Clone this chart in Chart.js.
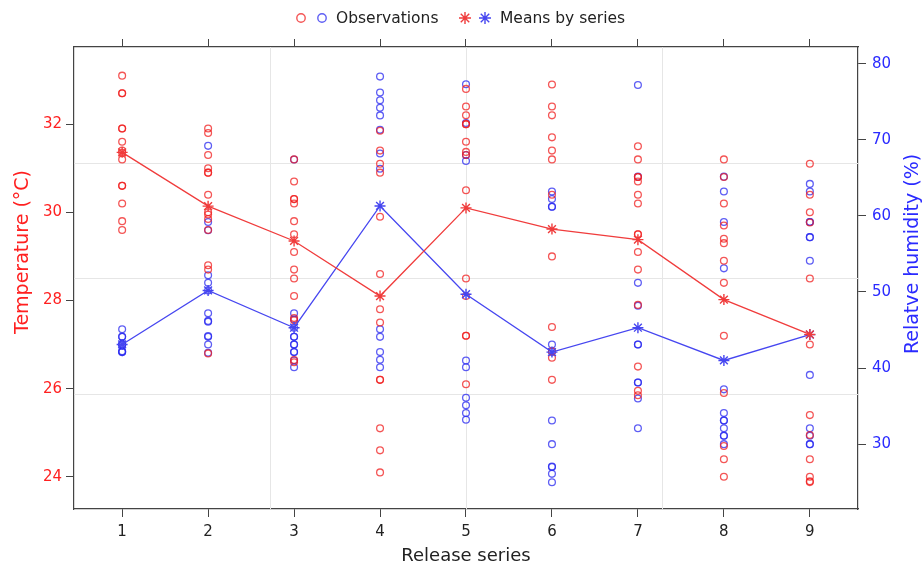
<!DOCTYPE html>
<html>
<head>
<meta charset="utf-8">
<script src="https://cdn.jsdelivr.net/npm/chart.js@4/dist/chart.umd.min.js"></script>
<style>
  html, body { margin: 0; padding: 0; background: #fff; }
  #wrap { width: 922px; height: 568px; }
</style>
</head>
<body>
<div id="wrap"><canvas id="chart" width="922" height="568"></canvas></div>
<script>
// release series (x categories)
const seriesTicks = [1, 2, 3, 4, 5, 6, 7, 8, 9];
const tempTicks = [24, 26, 28, 30, 32];
const humTicks = [30, 40, 50, 60, 70, 80];

// temperature observations (°C), one list per release series
const tempObs = [
    [33.1, 32.7, 32.7, 31.9, 31.9, 31.6, 31.4, 31.35, 31.2, 30.6, 30.6, 30.2, 29.8, 29.6],
    [31.9, 31.8, 31.3, 31.0, 30.9, 30.9, 30.4, 30.0, 29.95, 29.85, 29.6, 28.8, 28.7, 26.8],
    [31.2, 30.7, 30.3, 30.3, 30.2, 29.8, 29.5, 29.1, 28.7, 28.5, 28.1, 27.6, 27.55, 26.65, 26.6],
    [31.85, 31.4, 31.1, 30.9, 29.9, 28.6, 27.8, 27.5, 26.2, 26.2, 25.1, 24.6, 24.1],
    [32.8, 32.4, 32.2, 32.0, 32.0, 31.6, 31.37, 31.3, 30.5, 28.5, 28.1, 27.2, 27.2, 26.1],
    [32.9, 32.4, 32.2, 31.7, 31.4, 31.2, 30.4, 29.0, 27.4, 26.85, 26.7, 26.2],
    [31.5, 31.2, 30.8, 30.8, 30.7, 30.4, 30.2, 29.5, 29.5, 29.1, 28.7, 27.9, 26.5, 25.95, 25.85],
    [31.2, 30.8, 30.2, 29.7, 29.4, 29.3, 28.9, 28.4, 27.2, 25.9, 24.7, 24.4, 24.0],
    [31.1, 30.4, 30.0, 29.77, 28.5, 27.0, 25.4, 24.95, 24.4, 24.0, 23.9, 23.88]
];

// relative humidity observations (%), one list per release series
const humObs = [
    [45.1, 44.1, 44.1, 43.2, 43.1, 43.0, 42.2, 42.1, 42.1],
    [69.2, 59.2, 58.1, 52.2, 51.2, 50.2, 47.2, 46.2, 46.1, 44.2, 44.1, 43.1, 42.0],
    [67.4, 47.2, 46.4, 45.3, 44.1, 44.1, 43.1, 43.1, 42.1, 42.1, 41.0, 40.1],
    [78.3, 76.2, 75.2, 74.2, 73.2, 71.3, 68.2, 66.2, 45.1, 44.1, 42.1, 41.1, 40.1],
    [77.3, 72.2, 68.0, 67.2, 41.0, 40.1, 36.1, 35.1, 34.1, 33.2],
    [63.2, 62.2, 61.2, 61.2, 43.1, 42.1, 33.1, 30.0, 27.05, 27.0, 26.1, 25.0],
    [77.2, 65.15, 51.2, 48.2, 43.1, 43.1, 38.1, 38.1, 36.0, 32.1],
    [65.15, 63.2, 59.2, 53.1, 37.2, 34.1, 33.1, 33.1, 32.1, 31.1, 31.1, 30.0],
    [64.2, 63.2, 59.2, 59.2, 57.2, 57.2, 54.1, 39.1, 32.1, 31.1, 30.0, 30.0]
];

// means by series
const tempMeans = [31.36, 30.14, 29.35, 28.1, 30.1, 29.62, 29.38, 28.02, 27.23];
const humMeans = [43.1, 50.2, 45.3, 61.3, 49.7, 42.1, 45.3, 41.0, 44.4];

const RED = 'rgba(240, 30, 30, 0.75)';
const BLUE = 'rgba(40, 40, 240, 0.75)';
const RED_LINE = '#f03c3c';
const BLUE_LINE = '#4646f0';
const RED_TEXT = '#ff2020';
const BLUE_TEXT = '#2a2aff';
const AXIS = '#444';
const FONT = "'DejaVu Sans', Verdana, sans-serif";

function obsPoints(lists) {
    const pts = [];
    lists.forEach((vals, i) => vals.forEach(v => pts.push({ x: seriesTicks[i], y: v })));
    return pts;
}
function meanPoints(vals) {
    return vals.map((v, i) => ({ x: seriesTicks[i], y: v }));
}
function fixTicks(list) {
    return scale => { scale.ticks = list.map(v => ({ value: v })); };
}

// faint grid at quarter positions of the panel
const quarterGrid = {
    id: 'quarterGrid',
    beforeDatasetsDraw(chart) {
        const { ctx, chartArea: a } = chart;
        ctx.save();
        ctx.strokeStyle = '#e6e6e6';
        ctx.lineWidth = 1;
        ctx.beginPath();
        for (let k = 1; k < 4; k++) {
            const x = Math.round(a.left + (a.right - a.left) * k / 4) + 0.5;
            const y = Math.round(a.top + (a.bottom - a.top) * k / 4) + 0.5;
            ctx.moveTo(x, a.top); ctx.lineTo(x, a.bottom);
            ctx.moveTo(a.left, y); ctx.lineTo(a.right, y);
        }
        ctx.stroke();
        ctx.restore();
    }
};

// legend: two symbols per entry, as in the original
function drawStar(ctx, x, y, r) {
    const d = r * Math.SQRT1_2;
    ctx.beginPath();
    ctx.moveTo(x - r, y); ctx.lineTo(x + r, y);
    ctx.moveTo(x, y - r); ctx.lineTo(x, y + r);
    ctx.moveTo(x - d, y - d); ctx.lineTo(x + d, y + d);
    ctx.moveTo(x - d, y + d); ctx.lineTo(x + d, y - d);
    ctx.stroke();
}
const topLegend = {
    id: 'topLegend',
    afterDraw(chart) {
        const ctx = chart.ctx;
        const y = 18;
        ctx.save();
        ctx.lineWidth = 1.4;
        [[301, RED], [322, BLUE]].forEach(([x, c]) => {
            ctx.strokeStyle = c;
            ctx.beginPath();
            ctx.arc(x, y, 4.2, 0, Math.PI * 2);
            ctx.stroke();
        });
        [[465, RED_LINE], [485, BLUE_LINE]].forEach(([x, c]) => {
            ctx.strokeStyle = c;
            drawStar(ctx, x, y, 6);
        });
        ctx.fillStyle = '#222';
        ctx.font = '15.5px ' + FONT;
        ctx.textBaseline = 'middle';
        ctx.textAlign = 'left';
        ctx.fillText('Observations', 336, y + 1);
        ctx.fillText('Means by series', 500, y + 1);
        ctx.restore();
    }
};

// both y titles read bottom-to-top in the original
const yTitles = {
    id: 'yTitles',
    afterDraw(chart) {
        const ctx = chart.ctx;
        ctx.save();
        ctx.font = '19px ' + FONT;
        ctx.textAlign = 'center';
        ctx.textBaseline = 'middle';
        [[23, 252, 'Temperature (°C)', RED_TEXT], [913, 254, 'Relatve humidity (%)', BLUE_TEXT]].forEach(([x, y, t, c]) => {
            ctx.save();
            ctx.translate(x, y);
            ctx.rotate(-Math.PI / 2);
            ctx.fillStyle = c;
            ctx.fillText(t, 0, 0);
            ctx.restore();
        });
        ctx.restore();
    }
};

const ctx = document.getElementById('chart');
new Chart(ctx, {
    type: 'scatter',
    data: {
        datasets: [
            {
                label: 'Means temperature',
                data: meanPoints(tempMeans),
                yAxisID: 'y',
                showLine: true,
                borderColor: RED_LINE,
                borderWidth: 1.3,
                pointStyle: 'star',
                pointRadius: 5.5,
                pointBorderColor: RED_LINE,
                pointBorderWidth: 1.4,
                order: 1
            },
            {
                label: 'Means humidity',
                data: meanPoints(humMeans),
                yAxisID: 'y2',
                showLine: true,
                borderColor: BLUE_LINE,
                borderWidth: 1.3,
                pointStyle: 'star',
                pointRadius: 5.5,
                pointBorderColor: BLUE_LINE,
                pointBorderWidth: 1.4,
                order: 2
            },
            {
                label: 'Temperature',
                data: obsPoints(tempObs),
                yAxisID: 'y',
                pointRadius: 3.4,
                pointBorderWidth: 1.3,
                pointBorderColor: RED,
                pointBackgroundColor: 'transparent',
                order: 3
            },
            {
                label: 'Humidity',
                data: obsPoints(humObs),
                yAxisID: 'y2',
                pointRadius: 3.4,
                pointBorderWidth: 1.3,
                pointBorderColor: BLUE,
                pointBackgroundColor: 'transparent',
                order: 4
            }
        ]
    },
    options: {
        responsive: false,
        animation: false,
        layout: { padding: 0 },
        font: { family: FONT },
        plugins: {
            legend: { display: false },
            tooltip: { enabled: false }
        },
        scales: {
            x: {
                type: 'linear',
                position: 'bottom',
                min: 0.44,
                max: 9.56,
                afterBuildTicks: fixTicks(seriesTicks),
                afterFit: s => { s.height = 59; },
                grid: { drawOnChartArea: false, tickLength: 8, color: AXIS },
                border: { color: AXIS, width: 1.2 },
                ticks: { color: '#222', font: { family: FONT, size: 15 }, padding: 6 },
                title: {
                    display: true, text: 'Release series', color: '#222',
                    font: { family: FONT, size: 18 }, padding: { top: 0, bottom: 1 }
                }
            },
            xTop: {
                type: 'linear',
                position: 'top',
                min: 0.44,
                max: 9.56,
                afterBuildTicks: fixTicks(seriesTicks),
                afterFit: s => { s.height = 47; },
                grid: { drawOnChartArea: false, tickLength: 8, color: AXIS },
                border: { color: AXIS, width: 1.2 },
                ticks: { color: 'rgba(0,0,0,0)', font: { size: 1 } }
            },
            y: {
                type: 'linear',
                position: 'left',
                min: 23.27,
                max: 33.75,
                afterBuildTicks: fixTicks(tempTicks),
                afterFit: s => { s.width = 74; },
                grid: { drawOnChartArea: false, tickLength: 8, color: AXIS },
                border: { color: AXIS, width: 1.2 },
                ticks: { color: RED_TEXT, font: { family: FONT, size: 15 }, padding: 4 }
            },
            y2: {
                type: 'linear',
                position: 'right',
                min: 21.48,
                max: 82.19,
                afterBuildTicks: fixTicks(humTicks),
                afterFit: s => { s.width = 64; },
                grid: { drawOnChartArea: false, tickLength: 8, color: AXIS },
                border: { color: AXIS, width: 1.2 },
                ticks: { color: BLUE_TEXT, font: { family: FONT, size: 15 }, padding: 6 }
            }
        }
    },
    plugins: [quarterGrid, topLegend, yTitles]
});
</script>
</body>
</html>
